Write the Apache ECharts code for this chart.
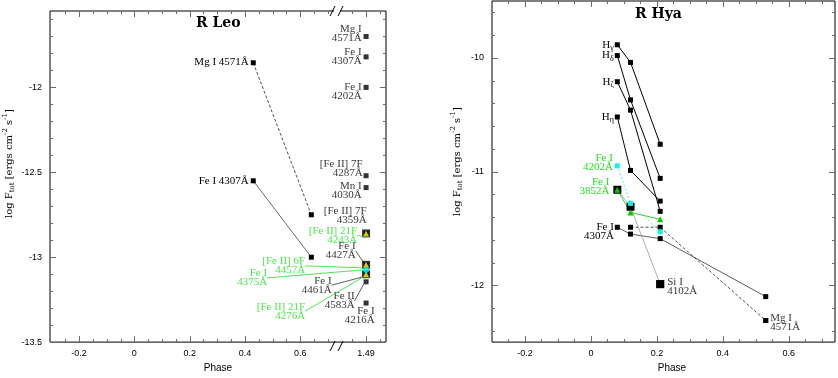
<!DOCTYPE html>
<html>
<head>
<meta charset="utf-8">
<script src="https://cdn.jsdelivr.net/npm/echarts@6/dist/echarts.min.js"></script>
<style>
html, body { margin: 0; padding: 0; background: #fff; }
#main { width: 838px; height: 378px; }
</style>
</head>
<body>
<div id="main"></div>
<script>
// ---- R Leo: two early epochs, then the late epoch past the axis break
const leoPhases = [0.43, 0.64]
const leoEarlyNames = ['Mg I 4571Å', 'Fe I 4307Å']
const leoMgI4571 = [-11.855, -12.75]
const leoFeI4307 = [-12.55, -13.0]

const leoLatePhase = 1.49
const leoLateNames = ['Mg I\n4571Å', 'Fe I\n4307Å', 'Fe I\n4202Å', '[Fe II] 7F\n4287Å', 'Mn I\n4030Å',
    '[Fe II] 7F\n4359Å', 'Fe I\n4427Å', 'Fe I\n4461Å', 'Fe II\n4583Å', 'Fe I\n4216Å']
const leoLateFlux = [-11.70, -11.82, -12.0, -12.52, -12.59, -12.86, -13.045, -13.10, -13.145, -13.27]
const leoForbiddenNames = ['[Fe II] 21F\n4243Å', '[Fe II] 6F\n4457Å', '[Fe II] 21F\n4276Å']
const leoForbiddenFlux = [-12.86, -13.045, -13.10]
const leoFe4375Names = ['Fe I\n4375Å']
const leoFe4375Flux = [-13.075]

// ---- R Hya
const hyaPhases = [0.08, 0.12, 0.21]
const hyaHgamma = [-9.885, -10.04, -10.76]
const hyaHdelta = [-9.98, -10.37, -11.06]
const hyaHzeta = [-10.21, -10.46, -11.35]
const hyaHeta = [-10.52, -10.99, -11.26]
const hyaFeI4202 = [-10.95, -11.28, -11.53]
const hyaFeI3852 = [-11.16, -11.36, -11.42]
const hyaSiI4102 = [-11.16, -11.31, -11.99]
const hyaFeI4307Phases = [0.08, 0.12, 0.21, 0.53]
const hyaFeI4307 = [-11.49, -11.55, -11.59, -12.10]
const hyaMgI4571Phases = [0.12, 0.21, 0.53]
const hyaMgI4571 = [-11.49, -11.49, -12.31]

// tick labels
const leoXLabels = [-0.2, 0, 0.2, 0.4, 0.6]
const leoYLabels = [-13.5, -13, -12.5, -12]
const hyaXLabels = [-0.2, 0, 0.2, 0.4, 0.6]
const hyaYLabels = [-12, -11, -10]

// late epoch sits right of the break, shifted onto the axis
const lateShift = 0.652
const lateX = p => p - lateShift
const breakAt = 0.733

// label nudges [dx, dy] (layout only)
const leoLateShiftPx = [[0, -3], [0, 0], [0, 4], [1, -7], [0, 3], [5, -18], [-6, -14], [-30, 11], [-7, 19], [13, 13]]
const leoLateLead = [false, false, false, false, false, false, true, true, true, false]
const leoForbShiftPx = [[-4, 2], [-56, 1], [-56, 37]]
const leo4375ShiftPx = [[-93, 8]]

const GREEN = '#22e022'
const GREEN_MARK = '#00c800'
const CYAN = '#10f0f0'
const YELLOW = '#ffff00'

const chartDom = document.getElementById('main')
const myChart = echarts.init(chartDom)

const serif = { fontFamily: 'Liberation Serif', fontSize: 11, color: '#000', lineHeight: 9 }
const tickFont = { fontFamily: 'Liberation Sans', fontSize: 9, color: '#000' }
const tickColor = '#6a6a6a'

const leoRect = { left: 50, top: 11, width: 336, height: 335 }
const hyaRect = { left: 492, top: 1, width: 343, height: 344 }
const leoXRange = [-0.305, 0.91]
const leoYRange = [-13.5, -11.55]
const hyaXRange = [-0.3, 0.74]
const hyaYRange = [-12.5, -9.5]

function ticks (from, to, step, skip) {
    const out = []
    for (let v = from; v <= to + 1e-9; v += step) {
        const r = Math.round(v * 1000) / 1000
        if (!skip.some(s => Math.abs(s - r) < 1e-6)) out.push(r)
    }
    return out
}

function fmt (v) {
    return String(Math.round(v * 100) / 100)
}

const yName = 'log F{sub|tot} [ergs cm{sup|-2} s{sup|-1}]'
function yAxisOpt (gridIndex, range, labelVals, gap, shift) {
    return {
        type: 'value', gridIndex, min: range[0], max: range[1],
        axisLine: { show: false, onZero: false }, splitLine: { show: false }, axisTick: { show: false },
        axisLabel: Object.assign({ customValues: labelVals, formatter: fmt, margin: 8 }, tickFont),
        name: yName, nameLocation: 'middle', nameGap: gap, nameRotate: 90,
        nameTextStyle: {
            fontFamily: 'DejaVu Serif', fontSize: 10, color: '#000', lineHeight: 14,
            padding: [0, 0, 0, shift],
            rich: {
                sub: { fontFamily: 'DejaVu Serif', fontSize: 7, verticalAlign: 'bottom', lineHeight: 14 },
                sup: { fontFamily: 'DejaVu Serif', fontSize: 7, verticalAlign: 'top', lineHeight: 14 }
            }
        }
    }
}
function xAxisOpt (gridIndex, range, labelVals, formatter, shift) {
    return {
        type: 'value', gridIndex, min: range[0], max: range[1],
        axisLine: { show: false, onZero: false }, splitLine: { show: false }, axisTick: { show: false },
        axisLabel: Object.assign({ customValues: labelVals, formatter, margin: 7 }, tickFont),
        name: 'Phase', nameLocation: 'middle', nameGap: 20,
        nameTextStyle: { fontFamily: 'Liberation Sans', fontSize: 10, color: '#000', padding: [0, 0, 0, shift] }
    }
}

const leoMajorsX = leoXLabels.concat([lateX(leoLatePhase)])
const leoMinorsX = ticks(-0.25, 0.7, 0.05, leoMajorsX).concat([lateX(1.44), lateX(1.54)])
const hyaMinorsX = ticks(-0.25, 0.7, 0.05, hyaXLabels)
const leoMinorsY = ticks(-13.4, -11.6, 0.1, leoYLabels)
const hyaMinorsY = ticks(-12.4, -9.6, 0.2, hyaYLabels)
const leoXFmt = v => v > breakAt ? String(leoLatePhase) : fmt(v)

// tick marks on all four sides, placed through the axis scales: [x, y, side, length]
function tickItems (xMaj, xMin, yMaj, yMin, xRange, yRange) {
    const out = []
    const add = (vals, isX, len) => vals.forEach(v => {
        if (isX) { out.push([v, yRange[0], 0, len]); out.push([v, yRange[0], 1, len]) }
        else { out.push([xRange[0], v, 2, len]); out.push([xRange[0], v, 3, len]) }
    })
    add(xMaj, true, 6); add(xMin, true, 3); add(yMaj, false, 6); add(yMin, false, 3)
    return out
}
function renderTick (params, api) {
    const cs = params.coordSys
    const side = api.value(2)
    const len = api.value(3)
    const p = api.coord([api.value(0), api.value(1)])
    let shape
    if (side < 2) {
        const x = Math.round(p[0]) + 0.5
        const y0 = side === 0 ? cs.y + cs.height : cs.y
        shape = { x1: x, y1: y0, x2: x, y2: side === 0 ? y0 - len : y0 + len }
    } else {
        const y = Math.round(p[1]) + 0.5
        const x0 = side === 2 ? cs.x : cs.x + cs.width
        shape = { x1: x0, y1: y, x2: side === 2 ? x0 + len : x0 - len, y2: y }
    }
    return { type: 'line', shape, style: { stroke: tickColor, lineWidth: 1 } }
}
function tickSeries (g, items) {
    return {
        type: 'custom', xAxisIndex: g, yAxisIndex: g, data: items, renderItem: renderTick,
        encode: { x: 0, y: 1 }, clip: false, silent: true, z: 1
    }
}

// connected measurements, with a label on the first point
function lineSeries (g, phases, flux, opts) {
    const data = phases.map((p, i) => {
        if (i === 0 && opts.text) {
            return {
                value: [p, flux[i]],
                label: Object.assign({ show: true, formatter: opts.text, position: opts.pos || 'left',
                    distance: opts.dist == null ? 2 : opts.dist, offset: opts.offset || [0, 0] }, serif,
                    { color: opts.textColor || '#000' }, opts.labelExtra || {})
            }
        }
        return [p, flux[i]]
    })
    return {
        type: 'line', xAxisIndex: g, yAxisIndex: g, data,
        symbol: opts.symbol || 'rect', symbolSize: opts.size || 5,
        itemStyle: { color: opts.color || '#000' },
        lineStyle: { color: opts.lineColor || '#000', width: opts.width || 0.8, type: opts.type || 'solid' },
        label: { show: false }, z: opts.z || 2
    }
}

function lateSeries (names, flux, shifts, opts) {
    return {
        type: 'scatter', xAxisIndex: 0, yAxisIndex: 0,
        symbol: opts.symbol, symbolSize: opts.size,
        itemStyle: { color: opts.color },
        data: flux.map((v, i) => ({
            value: [lateX(leoLatePhase), v], name: names[i],
            labelLine: { show: opts.lead ? !!opts.lead[i] : true }
        })),
        label: Object.assign({ show: opts.labels !== false, position: 'left', distance: 2, formatter: '{b}' }, serif,
            { color: opts.textColor || '#000' }),
        labelLine: { show: false, lineStyle: { color: opts.leadColor || '#333', width: 0.8 } },
        labelLayout: p => shifts ? { dx: shifts[p.dataIndex][0], dy: shifts[p.dataIndex][1] } : {},
        z: opts.z || 3
    }
}

const hLabel = { rich: { s: { fontFamily: 'Liberation Serif', fontSize: 8, verticalAlign: 'bottom', lineHeight: 14 } }, lineHeight: 14 }

// axis break marks ("//") on the R Leo phase axis, top and bottom
const bx = leoRect.left + (breakAt - leoXRange[0]) / (leoXRange[1] - leoXRange[0]) * leoRect.width
const breakGraphic = []
;[leoRect.top, leoRect.top + leoRect.height].forEach(y => {
    breakGraphic.push({ type: 'rect', shape: { x: bx - 3, y: y - 2, width: 6, height: 4 }, style: { fill: '#fff' }, z: 10 })
    breakGraphic.push({ type: 'line', shape: { x1: bx - 7, y1: y + 5, x2: bx - 2, y2: y - 5 }, style: { stroke: '#000', lineWidth: 1 }, z: 11 })
    breakGraphic.push({ type: 'line', shape: { x1: bx + 1, y1: y + 5, x2: bx + 6, y2: y - 5 }, style: { stroke: '#000', lineWidth: 1 }, z: 11 })
})

const option = {
    animation: false,
    title: [
        { text: 'R Leo', left: 196, top: 16, padding: 0,
            textStyle: { fontFamily: 'DejaVu Serif', fontWeight: 'bold', fontSize: 14, color: '#000' } },
        { text: 'R Hya', left: 635, top: 7, padding: 0,
            textStyle: { fontFamily: 'DejaVu Serif', fontWeight: 'bold', fontSize: 14, color: '#000' } }
    ],
    grid: [
        Object.assign({ show: true, borderColor: '#000', borderWidth: 1, backgroundColor: 'transparent' }, leoRect),
        Object.assign({ show: true, borderColor: '#000', borderWidth: 1, backgroundColor: 'transparent' }, hyaRect)
    ],
    xAxis: [
        xAxisOpt(0, leoXRange, leoMajorsX, leoXFmt, 0),
        xAxisOpt(1, hyaXRange, hyaXLabels, fmt, 17)
    ],
    yAxis: [
        yAxisOpt(0, leoYRange, leoYLabels, 34, 26),
        yAxisOpt(1, hyaYRange, hyaYLabels, 28, 20)
    ],
    graphic: breakGraphic,
    series: [
        tickSeries(0, tickItems(leoMajorsX, leoMinorsX, leoYLabels, leoMinorsY, leoXRange, leoYRange)),
        tickSeries(1, tickItems(hyaXLabels, hyaMinorsX, hyaYLabels, hyaMinorsY, hyaXRange, hyaYRange)),

        // R Leo
        lineSeries(0, leoPhases, leoMgI4571, { text: leoEarlyNames[0], type: [3, 2], lineColor: '#222', offset: [0, -1], labelExtra: { lineHeight: 12 } }),
        lineSeries(0, leoPhases, leoFeI4307, { text: leoEarlyNames[1], lineColor: '#444', labelExtra: { lineHeight: 12 } }),
        lateSeries(leoLateNames, leoLateFlux, leoLateShiftPx, { symbol: 'rect', size: 5, color: '#000', lead: leoLateLead }),
        lateSeries(leoForbiddenNames, leoForbiddenFlux, null, { symbol: 'rect', size: 8, color: '#000', labels: false, lead: [false, false, false] }),
        lateSeries(leoForbiddenNames, leoForbiddenFlux, leoForbShiftPx, { symbol: 'triangle', size: 6, color: YELLOW, textColor: GREEN, leadColor: GREEN, z: 4 }),
        lateSeries(leoFe4375Names, leoFe4375Flux, leo4375ShiftPx, { symbol: 'diamond', size: 8, color: CYAN, textColor: GREEN, leadColor: GREEN, z: 5 }),

        // R Hya
        lineSeries(1, hyaPhases, hyaHgamma, { text: 'H{s|γ}', dist: 1, labelExtra: hLabel, width: 1 }),
        lineSeries(1, hyaPhases, hyaHdelta, { text: 'H{s|δ}', dist: 1, labelExtra: hLabel, width: 1 }),
        lineSeries(1, hyaPhases, hyaHzeta, { text: 'H{s|ζ}', dist: 1, labelExtra: hLabel, width: 1 }),
        lineSeries(1, hyaPhases, hyaHeta, { text: 'H{s|η}', dist: 1, labelExtra: hLabel, width: 1 }),
        lineSeries(1, hyaFeI4307Phases, hyaFeI4307, { text: 'Fe I\n4307Å', offset: [1, 4], lineColor: '#333' }),
        lineSeries(1, hyaMgI4571Phases, hyaMgI4571, { lineColor: '#222', type: [3, 2] }),
        lineSeries(1, hyaPhases, hyaSiI4102, { lineColor: '#999', size: 8 }),
        lineSeries(1, hyaPhases, hyaFeI4202, { text: 'Fe I\n4202Å', textColor: GREEN, offset: [0, -3], color: CYAN, lineColor: CYAN, type: [2, 2] }),
        lineSeries(1, hyaPhases, hyaFeI3852, { text: 'Fe I\n3852Å', textColor: GREEN, offset: [-1, -3], dist: 4, symbol: 'triangle', size: 6, color: GREEN_MARK, lineColor: GREEN_MARK })
    ]
}

// labels for the two stand-alone R Hya points at their last epoch
option.series.push({
    type: 'scatter', xAxisIndex: 1, yAxisIndex: 1, symbol: 'rect', symbolSize: 8, itemStyle: { color: '#000' },
    data: [{ value: [hyaPhases[2], hyaSiI4102[2]], name: 'Si I\n4102Å' }],
    label: Object.assign({ show: true, position: 'right', distance: 2, formatter: '{b}', offset: [1, 2] }, serif)
})
option.series.push({
    type: 'scatter', xAxisIndex: 1, yAxisIndex: 1, symbol: 'rect', symbolSize: 5, itemStyle: { color: '#000' },
    data: [{ value: [hyaMgI4571Phases[2], hyaMgI4571[2]], name: 'Mg I\n4571Å' }],
    label: Object.assign({ show: true, position: 'right', distance: 2, formatter: '{b}', offset: [0, 2] }, serif)
})

myChart.setOption(option)
</script>
</body>
</html>
